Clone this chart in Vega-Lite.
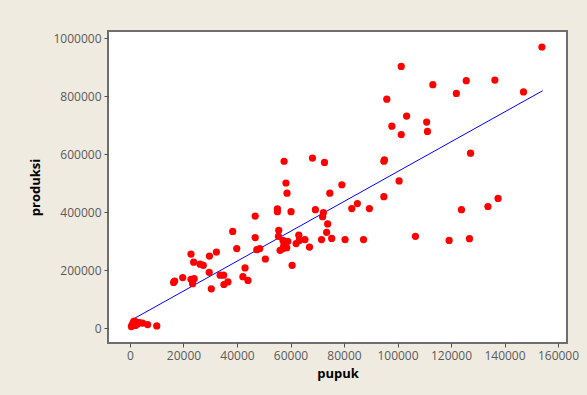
{
  "$schema": "https://vega.github.io/schema/vega-lite/v6.json",
  "width": 459,
  "height": 312,
  "autosize": {"type": "none"},
  "padding": {"left": 108, "top": 31, "right": 20, "bottom": 52},
  "background": "#EFEBE1",
  "config": {
    "view": {"fill": "white", "stroke": "#6e6e6e", "strokeWidth": 2},
    "axis": {
      "domain": false,
      "grid": false,
      "tickColor": "#505050",
      "tickSize": 4,
      "labelColor": "#5a5a5a",
      "labelFont": "Open Sans",
      "labelFontSize": 12,
      "labelPadding": 3,
      "titleFont": "Open Sans",
      "titleFontSize": 13,
      "titleFontWeight": "bold",
      "titleColor": "black"
    }
  },
  "datasets": {
    "pts": [
      {"pupuk": 153980, "produksi": 970000},
      {"pupuk": 101400, "produksi": 903000},
      {"pupuk": 113200, "produksi": 840000},
      {"pupuk": 125700, "produksi": 854000},
      {"pupuk": 136400, "produksi": 856000},
      {"pupuk": 122000, "produksi": 810000},
      {"pupuk": 147100, "produksi": 815000},
      {"pupuk": 96000, "produksi": 790000},
      {"pupuk": 103400, "produksi": 732000},
      {"pupuk": 97900, "produksi": 697000},
      {"pupuk": 110900, "produksi": 711000},
      {"pupuk": 111200, "produksi": 679000},
      {"pupuk": 101400, "produksi": 668000},
      {"pupuk": 127300, "produksi": 604000},
      {"pupuk": 95100, "produksi": 581000},
      {"pupuk": 94900, "produksi": 576000},
      {"pupuk": 100600, "produksi": 508000},
      {"pupuk": 94900, "produksi": 454000},
      {"pupuk": 89500, "produksi": 413000},
      {"pupuk": 85000, "produksi": 430000},
      {"pupuk": 82900, "produksi": 413000},
      {"pupuk": 123900, "produksi": 409000},
      {"pupuk": 133800, "produksi": 420000},
      {"pupuk": 137600, "produksi": 448000},
      {"pupuk": 87300, "produksi": 306000},
      {"pupuk": 106700, "produksi": 317000},
      {"pupuk": 119300, "produksi": 303000},
      {"pupuk": 126900, "produksi": 309000},
      {"pupuk": 80400, "produksi": 306000},
      {"pupuk": 75400, "produksi": 310000},
      {"pupuk": 71600, "produksi": 306000},
      {"pupuk": 57600, "produksi": 576000},
      {"pupuk": 68200, "produksi": 587000},
      {"pupuk": 72700, "produksi": 572000},
      {"pupuk": 58300, "produksi": 501000},
      {"pupuk": 58700, "produksi": 466000},
      {"pupuk": 79200, "produksi": 495000},
      {"pupuk": 74700, "produksi": 466000},
      {"pupuk": 55100, "produksi": 412000},
      {"pupuk": 55100, "produksi": 402000},
      {"pupuk": 60200, "produksi": 402000},
      {"pupuk": 69300, "produksi": 409000},
      {"pupuk": 72300, "produksi": 399000},
      {"pupuk": 72000, "produksi": 385000},
      {"pupuk": 46800, "produksi": 387000},
      {"pupuk": 73900, "produksi": 360000},
      {"pupuk": 73500, "produksi": 331000},
      {"pupuk": 55600, "produksi": 338000},
      {"pupuk": 55500, "produksi": 317000},
      {"pupuk": 57200, "produksi": 303000},
      {"pupuk": 63100, "produksi": 321000},
      {"pupuk": 65400, "produksi": 306000},
      {"pupuk": 63300, "produksi": 303000},
      {"pupuk": 62100, "produksi": 292000},
      {"pupuk": 67100, "produksi": 280000},
      {"pupuk": 46800, "produksi": 313000},
      {"pupuk": 47400, "produksi": 271000},
      {"pupuk": 48500, "produksi": 275000},
      {"pupuk": 56100, "produksi": 269000},
      {"pupuk": 57200, "produksi": 275000},
      {"pupuk": 58600, "produksi": 278000},
      {"pupuk": 50600, "produksi": 239000},
      {"pupuk": 60600, "produksi": 217000},
      {"pupuk": 38400, "produksi": 334000},
      {"pupuk": 39900, "produksi": 275000},
      {"pupuk": 22800, "produksi": 256000},
      {"pupuk": 23800, "produksi": 228000},
      {"pupuk": 26200, "produksi": 221000},
      {"pupuk": 27400, "produksi": 217000},
      {"pupuk": 29700, "produksi": 249000},
      {"pupuk": 32300, "produksi": 263000},
      {"pupuk": 29600, "produksi": 193000},
      {"pupuk": 33700, "produksi": 183000},
      {"pupuk": 35000, "produksi": 183000},
      {"pupuk": 30400, "produksi": 136000},
      {"pupuk": 35100, "produksi": 151000},
      {"pupuk": 36600, "produksi": 160000},
      {"pupuk": 16300, "produksi": 158000},
      {"pupuk": 16700, "produksi": 163000},
      {"pupuk": 19700, "produksi": 175000},
      {"pupuk": 22800, "produksi": 169000},
      {"pupuk": 24000, "produksi": 171000},
      {"pupuk": 23400, "produksi": 154000},
      {"pupuk": 42200, "produksi": 178000},
      {"pupuk": 43000, "produksi": 208000},
      {"pupuk": 44100, "produksi": 165000},
      {"pupuk": 57500, "produksi": 286000},
      {"pupuk": 59000, "produksi": 300000},
      {"pupuk": 500, "produksi": 6000},
      {"pupuk": 800, "produksi": 12000},
      {"pupuk": 1200, "produksi": 20000},
      {"pupuk": 1500, "produksi": 25000},
      {"pupuk": 2000, "produksi": 10000},
      {"pupuk": 2200, "produksi": 22000},
      {"pupuk": 2800, "produksi": 15000},
      {"pupuk": 3500, "produksi": 20000},
      {"pupuk": 4700, "produksi": 18000},
      {"pupuk": 6600, "produksi": 13000},
      {"pupuk": 10000, "produksi": 8000}
    ],
    "fit": [
      {"pupuk": 1200, "produksi": 31750},
      {"pupuk": 154270, "produksi": 819300}
    ]
  },
  "encoding": {
    "x": {
      "field": "pupuk",
      "type": "quantitative",
      "scale": {"domain": [-8224, 163364], "nice": false, "zero": false},
      "axis": {"values": [0, 20000, 40000, 60000, 80000, 100000, 120000, 140000, 160000], "format": "d", "title": "pupuk", "titlePadding": 6}
    },
    "y": {
      "field": "produksi",
      "type": "quantitative",
      "scale": {"domain": [-50690, 1025172], "nice": false, "zero": false},
      "axis": {"values": [0, 200000, 400000, 600000, 800000, 1000000], "format": "d", "title": "produksi", "titlePadding": 10}
    }
  },
  "layer": [
    {
      "data": {"name": "fit"},
      "mark": {"type": "line", "color": "#0000ff", "strokeWidth": 1}
    },
    {
      "data": {"name": "pts"},
      "mark": {"type": "circle", "color": "#ff0000", "opacity": 1, "size": 52}
    }
  ]
}
